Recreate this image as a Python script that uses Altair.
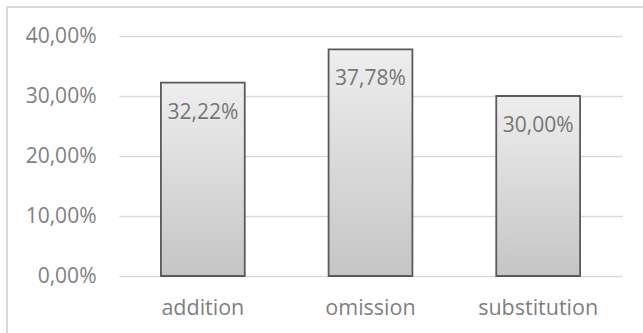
import altair as alt
import pandas as pd

# Error types and their share of all errors
categories = ["addition", "omission", "substitution"]
shares = [0.3222, 0.3778, 0.3000]
y_ticks = [0.0, 0.1, 0.2, 0.3, 0.4]

df = pd.DataFrame({"type": categories, "share": shares})

FONT = "Open Sans"
TEXT_GREY = "#7f7f7f"
GRID_GREY = "#d9d9d9"

x_enc = alt.X(
    "type:N",
    sort=categories,
    scale=alt.Scale(paddingInner=0.5, paddingOuter=0.25),
    axis=alt.Axis(
        title=None, labelAngle=0, ticks=False, domain=False,
        labelFont=FONT, labelFontSize=21.5, labelColor=TEXT_GREY,
        labelBaseline="middle", labelPadding=32,
    ),
)
y_enc = alt.Y(
    "share:Q",
    scale=alt.Scale(domain=[0, 0.4], nice=False),
    axis=alt.Axis(
        title=None, values=y_ticks, ticks=False, domain=False,
        grid=True, gridColor=GRID_GREY, gridWidth=1.5,
        labelFont=FONT, labelFontSize=21, labelColor=TEXT_GREY,
        labelPadding=23,
        labelExpr="replace(format(datum.value, '.2%'), '.', ',')",
    ),
)

base = alt.Chart(df)

# Frame around the whole chart
frame = base.mark_rect(
    fill=None, stroke=GRID_GREY, strokeWidth=1.5, clip=False
).encode(
    x=alt.value(-112), x2=alt.value(640),
    y=alt.value(-29), y2=alt.value(400),
)

bars = base.mark_bar(
    stroke="#5a5a5a",
    strokeWidth=1.8,
    color=alt.Gradient(
        gradient="linear",
        x1=0, x2=0, y1=0, y2=1,
        stops=[
            alt.GradientStop(color="#eeeeee", offset=0),
            alt.GradientStop(color="#c5c5c5", offset=1),
        ],
    ),
).encode(x=x_enc, y=y_enc)

labels = base.transform_calculate(
    label="replace(format(datum.share, '.2%'), '.', ',')"
).mark_text(
    font=FONT, fontSize=21, color="#767676", baseline="middle", dy=30
).encode(
    x=alt.X("type:N", sort=categories),
    y=alt.Y("share:Q"),
    text="label:N",
)

chart = (
    alt.layer(frame, bars, labels)
    .properties(
        width=503,
        height=240,
        autosize=alt.AutoSizeParams(type="none"),
        padding={"left": 119, "top": 36, "right": 21, "bottom": 57},
        background="white",
    )
    .configure_view(stroke=None)
)

chart.save("out.html", embed_options={"renderer": "svg", "actions": False})
